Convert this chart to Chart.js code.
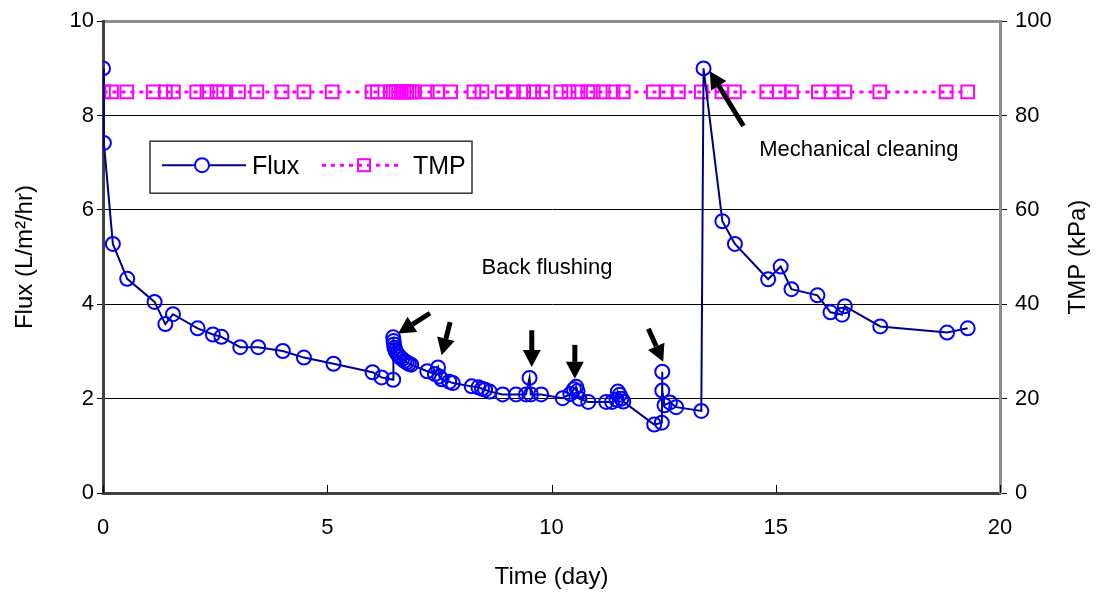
<!DOCTYPE html>
<html lang="en">
<head>
<meta charset="UTF-8">
<title>Flux and TMP versus time</title>
<script src="https://cdn.jsdelivr.net/npm/chart.js"></script>
<style>
  body { margin: 0; background: #fff; }
  canvas { display: block; }
</style>
</head>
<body>
<canvas id="fluxChart" width="1101" height="598"></canvas>
<script>
// Permeate flux (L/m2/hr) against operating time (day)
const fluxDays = [
  0.00, 0.02, 0.22, 0.54, 1.15, 1.39, 1.56, 2.11, 2.45, 2.64,
  3.06, 3.46, 4.01, 4.48, 5.14, 6.01, 6.21, 6.47, 6.47, 6.48,
  6.49, 6.50, 6.52, 6.55, 6.58, 6.62, 6.67, 6.72, 6.77, 6.82,
  6.87, 7.23, 7.40, 7.47, 7.50, 7.55, 7.72, 7.80, 8.22, 8.37,
  8.45, 8.52, 8.62, 8.91, 9.21, 9.43, 9.51, 9.54, 9.77, 10.25,
  10.42, 10.50, 10.55, 10.58, 10.62, 10.82, 11.22, 11.35, 11.45, 11.48,
  11.52, 11.56, 11.60, 12.29, 12.46, 12.47, 12.47, 12.52, 12.64, 12.78,
  13.34, 13.39, 13.81, 14.09, 14.83, 15.11, 15.35, 15.93, 16.22, 16.48,
  16.54, 17.33, 18.82, 19.28
];
const fluxValues = [
  9.00, 7.42, 5.28, 4.54, 4.05, 3.58, 3.79, 3.49, 3.36, 3.31,
  3.09, 3.09, 3.01, 2.87, 2.74, 2.56, 2.45, 2.40, 3.30, 3.22,
  3.15, 3.08, 3.02, 2.97, 2.92, 2.88, 2.84, 2.80, 2.77, 2.74,
  2.72, 2.58, 2.52, 2.66, 2.47, 2.41, 2.36, 2.33, 2.26, 2.24,
  2.21, 2.19, 2.15, 2.09, 2.09, 2.09, 2.44, 2.09, 2.09, 2.01,
  2.10, 2.20, 2.25, 2.16, 2.00, 1.93, 1.93, 1.93, 1.98, 2.15,
  2.08, 2.00, 1.94, 1.45, 1.49, 2.57, 2.17, 1.86, 1.92, 1.82,
  1.74, 9.00, 5.76, 5.28, 4.53, 4.80, 4.32, 4.19, 3.83, 3.78,
  3.96, 3.53, 3.40, 3.49
];

// Transmembrane pressure (kPa)
const tmpDays = [
  0.01, 0.19, 0.53, 1.12, 1.39, 1.57, 2.09, 2.32, 2.54, 2.69,
  3.02, 3.43, 3.99, 4.48, 5.11, 6.00, 6.12, 6.41, 6.47, 6.53,
  6.59, 6.65, 6.71, 6.77, 6.83, 6.89, 6.93, 7.23, 7.46, 7.75,
  8.27, 8.45, 8.90, 9.15, 9.38, 9.60, 9.80, 10.21, 10.39, 10.59,
  10.81, 10.93, 11.15, 11.37, 11.60, 12.27, 12.56, 12.83, 13.34, 13.80,
  14.08, 14.80, 15.08, 15.35, 15.95, 16.24, 16.54, 17.32, 18.80, 19.28
];
const tmpKPa = [
  85, 85, 85, 85, 85, 85, 85, 85, 85, 85,
  85, 85, 85, 85, 85, 85, 85, 85, 85, 85,
  85, 85, 85, 85, 85, 85, 85, 85, 85, 85,
  85, 85, 85, 85, 85, 85, 85, 85, 85, 85,
  85, 85, 85, 85, 85, 85, 85, 85, 85, 85,
  85, 85, 85, 85, 85, 85, 85, 85, 85, 85
];

const xTicks = [0, 5, 10, 15, 20];

// Arrows marking back flushing and mechanical cleaning, in (day, flux) units
const arrows = [
  { from: [7.29, 3.81], to: [6.58, 3.38] },
  { from: [7.74, 3.62], to: [7.55, 2.92] },
  { from: [9.56, 3.45], to: [9.56, 2.67] },
  { from: [10.52, 3.14], to: [10.52, 2.42] },
  { from: [12.16, 3.48], to: [12.49, 2.78] },
  { from: [14.28, 7.78], to: [13.53, 8.94] }
];
const notes = [
  { text: 'Back flushing', at: [9.90, 4.76], align: 'center' },
  { text: 'Mechanical cleaning', at: [14.63, 7.27], align: 'left' }
];

const FONT = '"Liberation Sans", Arial, sans-serif';
const FLUX_LINE = '#000080';
const FLUX_MARK = '#0000ff';
const TMP_COLOR = '#ff00ff';

function drawArrow(ctx, x1, y1, x2, y2) {
  const ang = Math.atan2(y2 - y1, x2 - x1);
  const headLen = 17, headHalf = 9;
  const bx = x2 - headLen * Math.cos(ang);
  const by = y2 - headLen * Math.sin(ang);
  ctx.save();
  ctx.strokeStyle = '#000';
  ctx.fillStyle = '#000';
  ctx.lineWidth = 5;
  ctx.beginPath();
  ctx.moveTo(x1, y1);
  ctx.lineTo(bx, by);
  ctx.stroke();
  ctx.beginPath();
  ctx.moveTo(x2, y2);
  ctx.lineTo(bx + headHalf * Math.sin(ang), by - headHalf * Math.cos(ang));
  ctx.lineTo(bx - headHalf * Math.sin(ang), by + headHalf * Math.cos(ang));
  ctx.closePath();
  ctx.fill();
  ctx.restore();
}

// extra drawing: inner x ticks, right title, arrows, notes and the boxed legend
const extras = {
  id: 'extras',
  afterDraw(chart) {
    const { ctx, chartArea: area, scales } = chart;
    const xs = scales.x, ys = scales.y;

    ctx.save();
    ctx.strokeStyle = '#000';
    ctx.lineWidth = 1;
    xTicks.forEach(v => {
      const px = Math.round(xs.getPixelForValue(v)) + 0.5;
      ctx.beginPath();
      ctx.moveTo(px, area.bottom);
      ctx.lineTo(px, area.bottom - 8);
      ctx.stroke();
    });

    // right axis title reads bottom to top
    ctx.fillStyle = '#000';
    ctx.font = '24px ' + FONT;
    ctx.textAlign = 'center';
    ctx.textBaseline = 'middle';
    ctx.translate(chart.width - 23, (area.top + area.bottom) / 2);
    ctx.rotate(-Math.PI / 2);
    ctx.fillText('TMP (kPa)', 0, 0);
    ctx.restore();

    arrows.forEach(a => {
      drawArrow(ctx,
        xs.getPixelForValue(a.from[0]), ys.getPixelForValue(a.from[1]),
        xs.getPixelForValue(a.to[0]), ys.getPixelForValue(a.to[1]));
    });

    ctx.save();
    ctx.fillStyle = '#000';
    ctx.font = '22px ' + FONT;
    ctx.textBaseline = 'middle';
    notes.forEach(n => {
      ctx.textAlign = n.align;
      ctx.fillText(n.text, xs.getPixelForValue(n.at[0]), ys.getPixelForValue(n.at[1]));
    });
    ctx.restore();

    // legend box
    const lx = area.left + 47, ly = area.top + 120, lw = 322, lh = 52;
    const cy = ly + 24;
    ctx.save();
    ctx.fillStyle = '#fff';
    ctx.fillRect(lx, ly, lw, lh);
    ctx.strokeStyle = '#333';
    ctx.lineWidth = 1.5;
    ctx.strokeRect(lx, ly, lw, lh);

    ctx.strokeStyle = FLUX_LINE;
    ctx.lineWidth = 2;
    ctx.beginPath();
    ctx.moveTo(lx + 12, cy);
    ctx.lineTo(lx + 96, cy);
    ctx.stroke();
    ctx.fillStyle = '#fff';
    ctx.strokeStyle = FLUX_MARK;
    ctx.beginPath();
    ctx.arc(lx + 52, cy, 7, 0, Math.PI * 2);
    ctx.fill();
    ctx.stroke();

    ctx.strokeStyle = TMP_COLOR;
    ctx.lineWidth = 3;
    ctx.setLineDash([4, 5]);
    ctx.beginPath();
    ctx.moveTo(lx + 172, cy);
    ctx.lineTo(lx + 252, cy);
    ctx.stroke();
    ctx.setLineDash([]);
    ctx.lineWidth = 2;
    ctx.strokeRect(lx + 208, cy - 6, 12, 12);

    ctx.fillStyle = '#000';
    ctx.font = '25px ' + FONT;
    ctx.textAlign = 'left';
    ctx.textBaseline = 'middle';
    ctx.fillText('Flux', lx + 102, cy + 2);
    ctx.fillText('TMP', lx + 263, cy + 2);
    ctx.restore();
  }
};

new Chart(document.getElementById('fluxChart'), {
  type: 'scatter',
  data: {
    datasets: [
      {
        label: 'Flux',
        data: fluxDays.map((d, i) => ({ x: d, y: fluxValues[i] })),
        showLine: true,
        borderColor: FLUX_LINE,
        borderWidth: 2,
        pointStyle: 'circle',
        pointRadius: 7,
        pointBorderWidth: 2,
        pointBorderColor: FLUX_MARK,
        pointBackgroundColor: 'rgba(0,0,0,0)',
        yAxisID: 'y'
      },
      {
        label: 'TMP',
        data: tmpDays.map((d, i) => ({ x: d, y: tmpKPa[i] })),
        showLine: true,
        borderColor: TMP_COLOR,
        borderWidth: 3,
        borderDash: [4, 5],
        pointStyle: 'rect',
        pointRadius: 9,
        pointBorderWidth: 2,
        pointBorderColor: TMP_COLOR,
        pointBackgroundColor: 'rgba(0,0,0,0)',
        yAxisID: 'y1'
      }
    ]
  },
  options: {
    responsive: false,
    animation: false,
    layout: { padding: { top: 20, left: 0, right: 0, bottom: 0 } },
    plugins: {
      legend: { display: false },
      tooltip: { enabled: false }
    },
    scales: {
      x: {
        type: 'linear',
        min: 0,
        max: 20,
        afterFit: s => { s.height = 105; },
        afterBuildTicks: s => { s.ticks = xTicks.map(v => ({ value: v })); },
        grid: { display: false, drawTicks: false, tickLength: 0 },
        border: { color: '#404040', width: 3 },
        ticks: { color: '#000', padding: 22, font: { family: FONT, size: 22 } },
        title: {
          display: true,
          text: 'Time (day)',
          color: '#000',
          padding: { top: 0, bottom: 6 },
          font: { family: FONT, size: 24 }
        }
      },
      y: {
        position: 'left',
        min: 0,
        max: 10,
        afterFit: s => { s.width = 103; },
        ticks: { stepSize: 2, color: '#000', padding: 3, font: { family: FONT, size: 22 } },
        grid: {
          color: c => c.tick && c.tick.value === 10 ? '#8c8c8c'
            : (c.tick && c.tick.value === 0 ? 'rgba(0,0,0,0)' : '#000'),
          lineWidth: c => c.tick && c.tick.value === 10 ? 3 : 1,
          tickColor: '#000',
          tickWidth: 1,
          tickLength: 6
        },
        border: { color: '#404040', width: 3 },
        title: {
          display: true,
          text: 'Flux (L/m²/hr)',
          color: '#000',
          padding: { top: 11, bottom: 0 },
          font: { family: FONT, size: 24 }
        }
      },
      y1: {
        position: 'right',
        min: 0,
        max: 100,
        afterFit: s => { s.width = 101; },
        ticks: { stepSize: 20, color: '#000', padding: 8, font: { family: FONT, size: 22 } },
        grid: { drawOnChartArea: false, tickColor: '#000', tickWidth: 1, tickLength: 7 },
        border: { color: '#8c8c8c', width: 3 }
      }
    }
  },
  plugins: [extras]
});
</script>
</body>
</html>
